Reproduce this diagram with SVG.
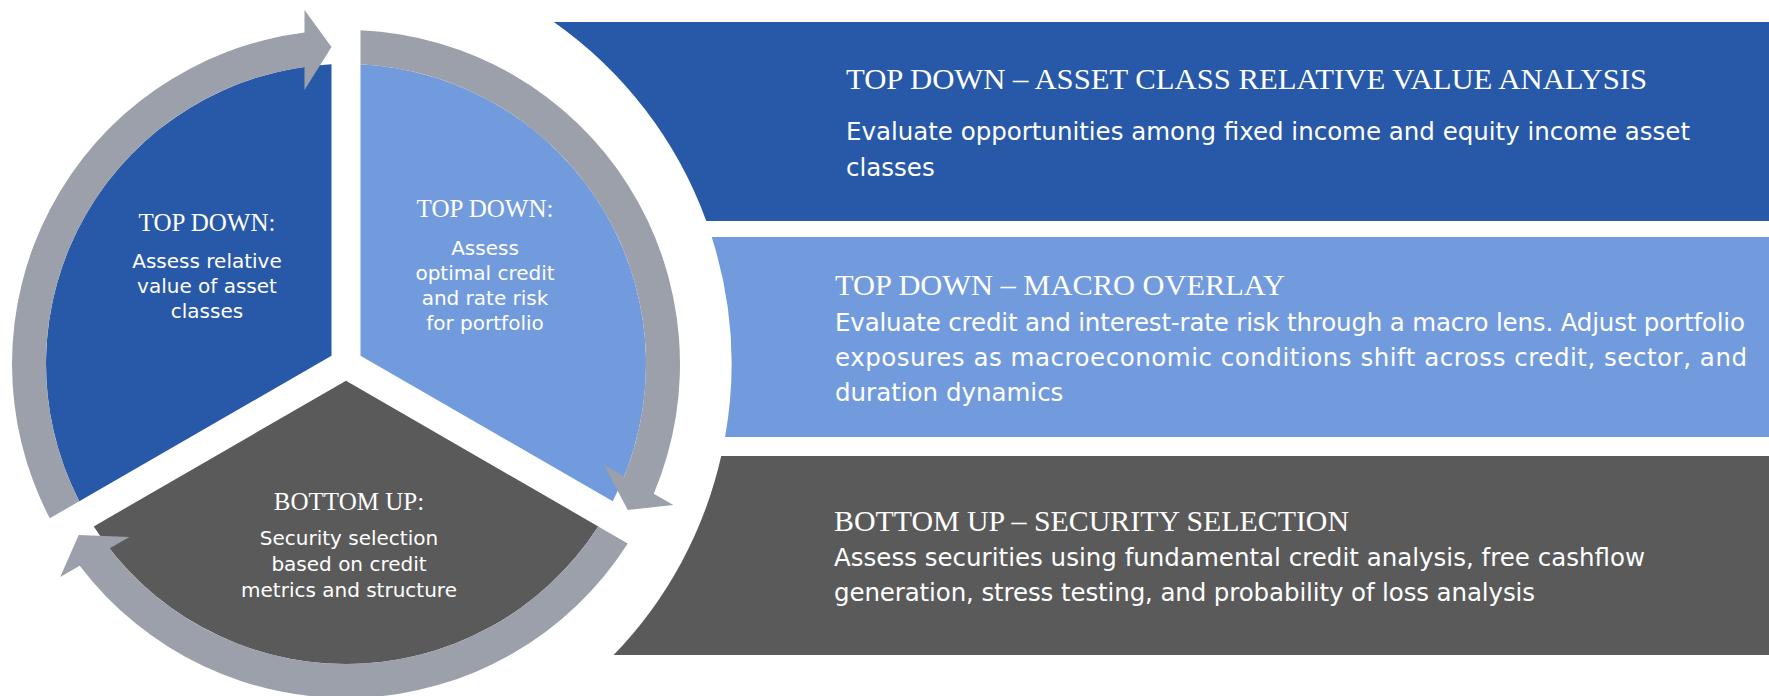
<svg xmlns="http://www.w3.org/2000/svg" width="1769" height="696" viewBox="0 0 1769 696">
<style>
.dkblue{fill:#2859A8}
.ltblue{fill:#729BDE}
.dkgray{fill:#5A5A5A}
.ring{fill:#9BA0AB}
.ttl{font-family:"Liberation Serif","Times New Roman",serif;fill:#fff}
.body{font-family:"DejaVu Sans","Liberation Sans",sans-serif;fill:#fff}
.wt{font-size:25px;text-anchor:middle}
.wb{font-size:20px;text-anchor:middle}
.bt{font-size:30px}
.bb{font-size:24.5px}
</style>
<defs>
<path id="wedge" d="M 331.5 355.63 L 331.5 64.35 A 300 300 0 0 0 79.25 501.27 Z"/>
<path id="arrow" d="M 49.78 518.29 A 334 334 0 0 1 304.5 32.59 L 304.5 10 L 331.5 47 L 304.5 90 L 304.5 66.88 A 300 300 0 0 0 79.25 501.27 Z"/>
</defs>
<rect width="1769" height="696" fill="#fff"/>

<g id="band-asset-class">
<path class="dkblue" d="M 553.8 22 L 1769 22 L 1769 221 L 706.3 221 A 418 418 0 0 0 553.8 22 Z"/>
<text class="ttl bt" x="846" y="88.5" textLength="801" lengthAdjust="spacingAndGlyphs">TOP DOWN – ASSET CLASS RELATIVE VALUE ANALYSIS</text>
<text class="body bb" x="846" y="140" textLength="844">Evaluate opportunities among fixed income and equity income asset</text>
<text class="body bb" x="846" y="176">classes</text>
</g>

<g id="band-macro">
<path class="ltblue" d="M 711.7 237 L 1769 237 L 1769 437 L 725.1 437 A 418 418 0 0 0 711.7 237 Z"/>
<text class="ttl bt" x="835" y="295" textLength="450" lengthAdjust="spacingAndGlyphs">TOP DOWN – MACRO OVERLAY</text>
<text class="body bb" x="835" y="330.5" textLength="910">Evaluate credit and interest-rate risk through a macro lens. Adjust portfolio</text>
<text class="body bb" x="835" y="366" textLength="912">exposures as macroeconomic conditions shift across credit, sector, and</text>
<text class="body bb" x="835" y="401">duration dynamics</text>
</g>

<g id="band-security">
<path class="dkgray" d="M 721.2 456 L 1769 456 L 1769 655 L 613.6 655 A 418 418 0 0 0 721.2 456 Z"/>
<text class="ttl bt" x="834" y="531" textLength="515" lengthAdjust="spacingAndGlyphs">BOTTOM UP – SECURITY SELECTION</text>
<text class="body bb" x="834" y="566" textLength="811">Assess securities using fundamental credit analysis, free cashflow</text>
<text class="body bb" x="834" y="601" textLength="701">generation, stress testing, and probability of loss analysis</text>
</g>

<g id="wedge-top-down-asset">
<use href="#wedge" class="dkblue"/>
<text class="ttl wt" x="207" y="230.5">TOP DOWN:</text>
<text class="body wb" x="207" y="267.5">Assess relative</text>
<text class="body wb" x="207" y="292.5">value of asset</text>
<text class="body wb" x="207" y="318">classes</text>
</g>

<g id="wedge-top-down-macro">
<use href="#wedge" class="ltblue" transform="rotate(120 346 364)"/>
<text class="ttl wt" x="485" y="217">TOP DOWN:</text>
<text class="body wb" x="485" y="254.5">Assess</text>
<text class="body wb" x="485" y="280">optimal credit</text>
<text class="body wb" x="485" y="305">and rate risk</text>
<text class="body wb" x="485" y="330">for portfolio</text>
</g>

<g id="wedge-bottom-up">
<use href="#wedge" class="dkgray" transform="rotate(240 346 364)"/>
<text class="ttl wt" x="349" y="509.5">BOTTOM UP:</text>
<text class="body wb" x="349" y="545">Security selection</text>
<text class="body wb" x="349" y="570.5">based on credit</text>
<text class="body wb" x="349" y="596.5">metrics and structure</text>
</g>

<g id="connectors">
<use href="#arrow" class="ring"/>
<use href="#arrow" class="ring" transform="rotate(120 346 364)"/>
<use href="#arrow" class="ring" transform="rotate(240 346 364)"/>
</g>
</svg>
